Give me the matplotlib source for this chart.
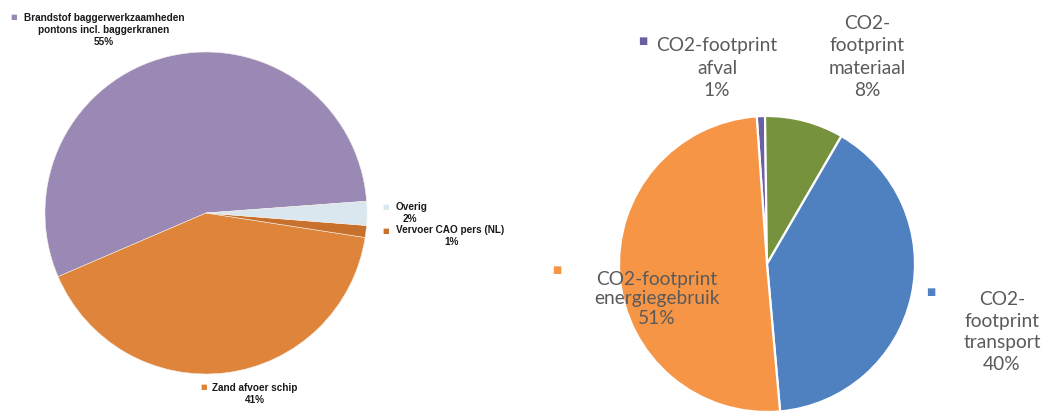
import matplotlib
matplotlib.use("Agg")
import matplotlib.pyplot as plt

W, H = 1043, 414

# left pie: dredging work
left_labels = ["Brandstof baggerwerkzaamheden\npontons incl. baggerkranen\n55%",
               "Zand afvoer schip\n41%",
               "Vervoer CAO pers (NL)\n1%",
               "Overig\n2%"]
left_values = [55.3, 41.1, 1.2, 2.4]
left_colors = ["#9a88b5", "#de853b", "#c8712c", "#dae7ee"]

# right pie: CO2 footprint
right_labels = ["CO2-footprint\nafval\n1%",
                "CO2-\nfootprint\nmateriaal\n8%",
                "CO2-\nfootprint\ntransport\n40%",
                "CO2-footprint\nenergiegebruik\n51%"]
right_values = [0.9, 8.6, 40.2, 50.3]
right_colors = ["#6c5ea3", "#77923d", "#4f80bf", "#f79546"]


def px(x, y):
    return x / W, 1 - y / H


fig = plt.figure(figsize=(W / 100, H / 100), dpi=100)

# left pie, center (206,214) r=161 px
cx, cy, r = 206, 214, 161
ax1 = fig.add_axes([(cx - r) / W, (H - cy - r) / H, 2 * r / W, 2 * r / H])
ax1.pie(left_values, colors=left_colors, startangle=4.2, counterclock=True,
        wedgeprops=dict(edgecolor="#f4eee8", linewidth=0.4))
ax1.set_xlim(-1, 1)
ax1.set_ylim(-1, 1)
ax1.set_aspect("auto")
ax1.axis("off")

# right pie, center (767,265) r=148 px
cx, cy, r = 767, 265, 148
ax2 = fig.add_axes([(cx - r) / W, (H - cy - r) / H, 2 * r / W, 2 * r / H])
ax2.pie(right_values, colors=right_colors, startangle=94, counterclock=False,
        wedgeprops=dict(edgecolor="white", linewidth=1.6))
ax2.set_xlim(-1, 1)
ax2.set_ylim(-1, 1)
ax2.set_aspect("auto")
ax2.axis("off")

# left labels
lfont = dict(family="Liberation Sans", fontsize=7.2, fontweight="bold",
             color="#1a1a1a", linespacing=1.2)
left_pos = [(104, 30), (255, 394)]
left_marks = [(14, 17), (204, 387), (386, 231), (386, 207)]
for i, lab in enumerate(left_labels):
    if i == 3:
        fig.text(*px(396, 207), "Overig", ha="left", va="center", **lfont)
        fig.text(*px(410, 219), "2%", ha="center", va="center", **lfont)
    elif i == 2:
        fig.text(*px(396, 230), "Vervoer CAO pers (NL)", ha="left", va="center", **lfont)
        fig.text(*px(452, 242), "1%", ha="center", va="center", **lfont)
    else:
        x, y = left_pos[i]
        fig.text(*px(x, y), lab, ha="center", va="center", multialignment="center", **lfont)
    mx, my = left_marks[i]
    fig.text(*px(mx, my), "\u25a0", ha="center", va="center", fontsize=5,
             family="DejaVu Sans", color=left_colors[i])

# right labels
rfont = dict(family="Lato", fontsize=13.8, color="#5a5a5a")
right_pos = [(717, 68), (867, 57), (1002, 332), (657, 299)]
right_spacing = [1.4, 1.4, 1.35, 1.2]
right_marks = [(643, 41), None, (931, 292), (557, 270)]
for i, lab in enumerate(right_labels):
    x, y = right_pos[i]
    fig.text(*px(x, y), lab, ha="center", va="center", multialignment="center",
             linespacing=right_spacing[i], **rfont)
    if right_marks[i] is not None:
        mx, my = right_marks[i]
        fig.text(*px(mx, my), "\u25a0", ha="center", va="center", fontsize=7,
                 family="DejaVu Sans", color=right_colors[i])

fig.savefig("out.png", dpi=100)
